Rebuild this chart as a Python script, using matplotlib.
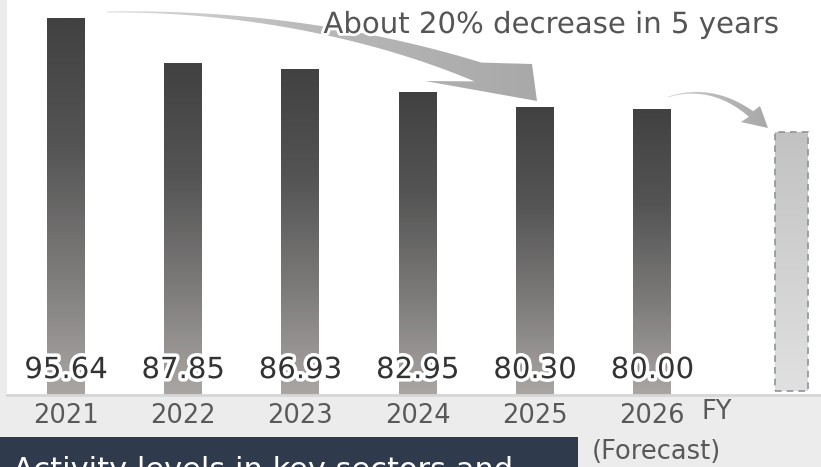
import matplotlib

matplotlib.use("Agg")
import matplotlib.pyplot as plt
import matplotlib.transforms as mtransforms
import numpy as np
from matplotlib import patheffects as pe
from matplotlib.colors import LinearSegmentedColormap
from matplotlib.patches import Polygon, Rectangle

# data
years = ["2021", "2022", "2023", "2024", "2025", "2026"]
values = [95.64, 87.85, 86.93, 82.95, 80.30, 80.00]
value_labels = ["95.64", "87.85", "86.93", "82.95", "80.30", "80.00"]
forecast_value = 75.9
title_text = "About 20% decrease in 5 years"
fy_text = "FY"
forecast_text = "(Forecast)"
footer_text = "Activity levels in key sectors and"

plt.rcParams["font.family"] = ["DejaVu Sans"]

W, H = 821, 467
fig = plt.figure(figsize=(W / 100, H / 100), dpi=100)
fig.patch.set_facecolor("#ececec")


def fx(px):
    return px / W


def fy(py):
    # pixel y measured from the top
    return 1 - py / H


# main plot area (white panel)
ax = fig.add_axes([fx(7), fy(395), fx(814), 395 / H])
ax.set_facecolor("white")
ymin, ymax = 30.5, 98.8
x = np.arange(len(years))
bar_w = 0.324

bar_cmap = LinearSegmentedColormap.from_list("bars", ["#a9a6a4", "#7c7a79", "#545454", "#414141"])
fc_cmap = LinearSegmentedColormap.from_list("fc", ["#e0e0e0", "#c2c2c2"])
grad = np.linspace(1, 0, 256).reshape(-1, 1)

bars = ax.bar(x, np.array(values) - ymin, bottom=ymin, width=bar_w,
              facecolor="none", edgecolor="none", zorder=2)
for b in bars:
    x0 = b.get_x()
    im = ax.imshow(grad, extent=[x0, x0 + b.get_width(), ymin, ymin + b.get_height()],
                   aspect="auto", cmap=bar_cmap, vmin=0, vmax=1, zorder=2)
    im.set_clip_path(b)

# forecast bar (sits a bit right of the regular spacing)
fc_x = 6.19
fc_w = 0.28
fc_bottom = ymin + 0.7
fc_bar = ax.bar([fc_x], [forecast_value - fc_bottom], bottom=fc_bottom, width=fc_w,
                facecolor="none", edgecolor="#8e949c", linestyle=(0, (4, 3)),
                linewidth=1.2, zorder=3)[0]
im = ax.imshow(grad, extent=[fc_x - fc_w / 2, fc_x + fc_w / 2, fc_bottom, forecast_value],
               aspect="auto", cmap=fc_cmap, vmin=0, vmax=1, zorder=2)
im.set_clip_path(fc_bar)

ax.set_xlim(-0.503, 6.44)
ax.set_ylim(ymin, ymax)
ax.set_yticks([])
ax.set_xticks(x, years)
ax.tick_params(axis="x", length=0, pad=6, labelsize=18.5, labelcolor="#595959")
for s in ["top", "left", "right"]:
    ax.spines[s].set_visible(False)
ax.spines["bottom"].set_color("#d6d6d6")
ax.spines["bottom"].set_linewidth(2)

# value labels near the bar bottoms
trans = mtransforms.blended_transform_factory(ax.transData, ax.transAxes)
for xi, lab in zip(x, value_labels):
    ax.text(xi, 0.063, lab, transform=trans, ha="center", va="center",
            fontsize=21, color="#333333", zorder=5,
            path_effects=[pe.withStroke(linewidth=5, foreground="white")])

# overlay axes in pixel coordinates for the arrows
oax = fig.add_axes([0, 0, 1, 1], zorder=2)
oax.set_xlim(0, W)
oax.set_ylim(H, 0)
oax.axis("off")
oax.patch.set_visible(False)


def bezier(p0, p1, p2, p3, n=120):
    t = np.linspace(0, 1, n)[:, None]
    p0, p1, p2, p3 = map(np.asarray, (p0, p1, p2, p3))
    return (1 - t) ** 3 * p0 + 3 * (1 - t) ** 2 * t * p1 + 3 * (1 - t) * t ** 2 * p2 + t ** 3 * p3


def arrow_poly(ctrl, w0, w1, barb_up, tip, barb_low, power=1.5):
    pts = bezier(*ctrl)
    d = np.gradient(pts, axis=0)
    d /= np.linalg.norm(d, axis=1)[:, None]
    nrm = np.column_stack([-d[:, 1], d[:, 0]])
    t = np.linspace(0, 1, len(pts))[:, None]
    w = w0 + (w1 - w0) * t ** power
    upper = pts - nrm * w / 2
    lower = pts + nrm * w / 2
    return np.vstack([upper, [barb_up, tip, barb_low], lower[::-1]])


big = arrow_poly([(107, 12), (260, 10), (390, 40), (478, 72)], 1.0, 20.0,
                 (532, 64), (537, 101), (425, 81))
big_patch = Polygon(big, closed=True, facecolor="none", edgecolor="none")
oax.add_patch(big_patch)
arr_cmap = LinearSegmentedColormap.from_list("arr", ["#dadada", "#b8b8b8", "#a8a8a8"])
im = oax.imshow(np.linspace(0, 1, 256).reshape(1, -1), extent=[100, 545, 110, 0],
                aspect="auto", cmap=arr_cmap)
im.set_clip_path(big_patch)

small = arrow_poly([(668, 97), (700, 87), (728, 96), (751, 114)], 0.8, 7.0,
                   (760, 106), (768, 128), (741, 122))
small_patch = Polygon(small, closed=True, facecolor="none", edgecolor="none")
oax.add_patch(small_patch)
im = oax.imshow(np.linspace(0, 1, 256).reshape(1, -1), extent=[665, 770, 135, 80],
                aspect="auto", cmap=arr_cmap)
im.set_clip_path(small_patch)
oax.set_xlim(0, W)
oax.set_ylim(H, 0)

# texts
fig.text(fx(551), fy(25), title_text, ha="center", va="center", fontsize=21,
         color="#555555", zorder=6,
         path_effects=[pe.withStroke(linewidth=4, foreground="white")])
fig.text(fx(701), fy(412), fy_text, ha="left", va="center", fontsize=18.5, color="#595959")
fig.text(fx(656), fy(452), forecast_text, ha="center", va="center", fontsize=18.5,
         color="#595959")

fig.patches.append(Rectangle((0, 0), fx(578), 30 / H, transform=fig.transFigure,
                             facecolor="#2f3a4d", edgecolor="none", zorder=1))
fig.text(fx(13), fy(479), footer_text, ha="left", va="baseline", fontsize=22,
         color="white", zorder=6)

fig.savefig("out.png", dpi=100, facecolor=fig.get_facecolor())
